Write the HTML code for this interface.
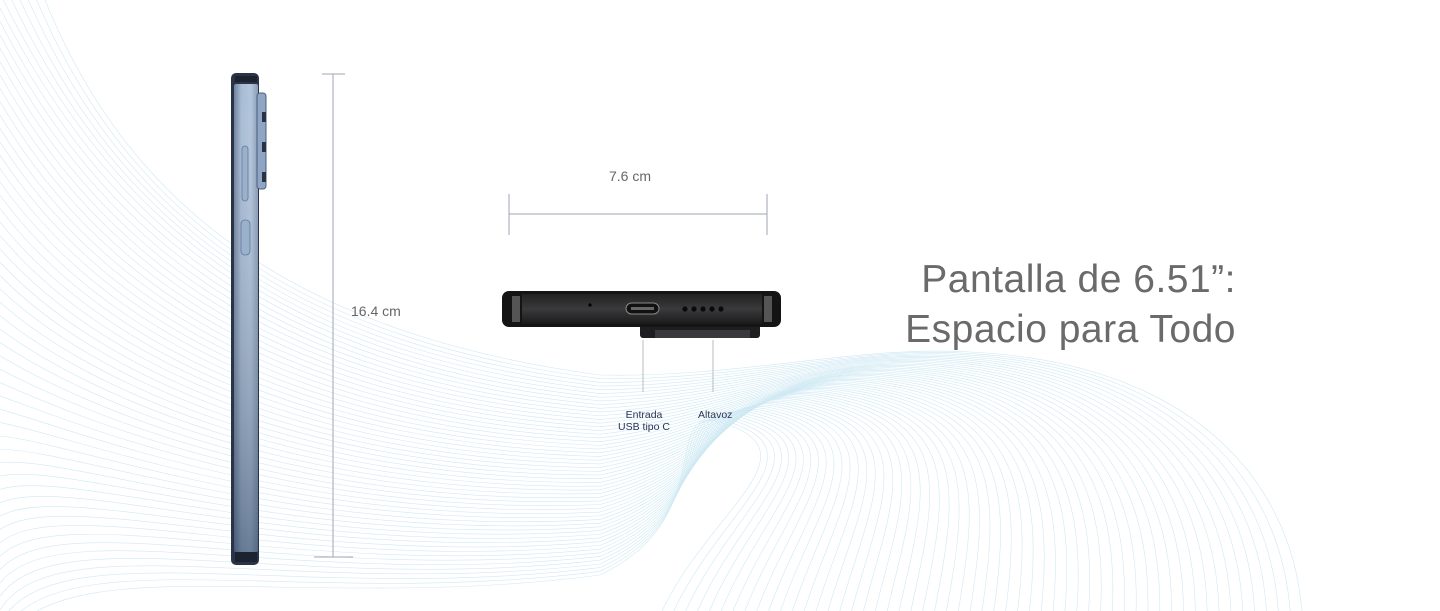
<!DOCTYPE html>
<html><head><meta charset="utf-8"><style>
html,body{margin:0;padding:0;background:#fff;overflow:hidden;width:1440px;height:611px;}
body{position:relative;font-family:"Liberation Sans",sans-serif;}
.t{position:absolute;color:#555;}
svg{overflow:hidden;display:block;}
</style></head><body>
<svg id="w" width="1440" height="611" style="position:absolute;left:0;top:0"></svg>
<svg width="1440" height="611" style="position:absolute;left:0;top:0">
<defs>
<linearGradient id="side" x1="0" x2="1" y1="0" y2="0">
<stop offset="0" stop-color="#5d7390"/><stop offset="0.3" stop-color="#9db4cf"/><stop offset="0.7" stop-color="#a9bfd8"/><stop offset="1" stop-color="#7b91ad"/></linearGradient>
<linearGradient id="sidev" x1="0" x2="0" y1="0" y2="1">
<stop offset="0" stop-color="#fff" stop-opacity="0.1"/><stop offset="1" stop-color="#2e3e58" stop-opacity="0.5"/></linearGradient>
<linearGradient id="bot" x1="0" x2="0" y1="0" y2="1">
<stop offset="0" stop-color="#222"/><stop offset="0.5" stop-color="#3a3a3c"/><stop offset="1" stop-color="#1a1a1a"/></linearGradient>
</defs>
<rect x="231" y="73" width="28" height="492" rx="5" fill="#2b3346"/>
<rect x="234" y="84" width="24" height="468" rx="2" fill="url(#side)"/>
<rect x="234" y="84" width="24" height="468" rx="2" fill="url(#sidev)"/>
<rect x="235" y="76" width="22" height="6" fill="#1c2230"/>
<rect x="235" y="552" width="22" height="10" fill="#1c2230"/>
<rect x="257" y="93" width="9" height="96" rx="3" fill="#8ea6c4" stroke="#4d5f7c" stroke-width="1"/>
<rect x="262" y="112" width="4" height="10" fill="#2a3246"/><rect x="262" y="142" width="4" height="10" fill="#2a3246"/><rect x="262" y="172" width="4" height="10" fill="#2a3246"/>
<rect x="242" y="146" width="6" height="55" rx="3" fill="#9ab1cc" stroke="#64789a" stroke-width="0.8"/>
<rect x="241" y="220" width="9" height="35" rx="4" fill="#9ab1cc" stroke="#64789a" stroke-width="0.8"/>
<line x1="333" y1="74" x2="333" y2="557" stroke="#a0a6b3" stroke-width="1"/>
<line x1="322" y1="74" x2="345" y2="74" stroke="#a0a6b3"/>
<line x1="314" y1="557" x2="353" y2="557" stroke="#a0a6b3"/>
<line x1="509" y1="214" x2="767" y2="214" stroke="#a0a6b3"/>
<line x1="509" y1="194" x2="509" y2="235" stroke="#a0a6b3"/>
<line x1="767" y1="194" x2="767" y2="235" stroke="#a0a6b3"/>
<rect x="640" y="322" width="120" height="16" rx="3" fill="#1e1e20"/>
<rect x="655" y="330" width="95" height="8" fill="#3a3a3c"/>
<rect x="502" y="291" width="279" height="36" rx="7" fill="#141414"/>
<rect x="522" y="294" width="240" height="30" fill="url(#bot)"/>
<rect x="512" y="296" width="8" height="26" fill="#555"/>
<rect x="764" y="296" width="8" height="26" fill="#555"/>
<circle cx="590" cy="305" r="1.6" fill="#000"/>
<rect x="626" y="303" width="33" height="11" rx="5.5" fill="#111" stroke="#888" stroke-width="1"/>
<rect x="631" y="307" width="23" height="3" fill="#666"/>
<g fill="#0a0a0a"><circle cx="685" cy="309" r="2.6"/><circle cx="694" cy="309" r="2.6"/><circle cx="703" cy="309" r="2.6"/><circle cx="712" cy="309" r="2.6"/><circle cx="721" cy="309" r="2.6"/></g>
<line x1="643" y1="340" x2="643" y2="392" stroke="#bbb"/>
<line x1="713" y1="340" x2="713" y2="392" stroke="#bbb"/>
</svg>
<div class="t" style="left:351px;top:303px;font-size:14px;color:#666;">16.4 cm</div>
<div class="t" style="left:609px;top:168px;font-size:14px;color:#666;">7.6 cm</div>
<div class="t" style="left:604px;top:409px;width:80px;text-align:center;font-size:10.5px;line-height:12px;color:#2a3556;">Entrada<br>USB tipo C</div>
<div class="t" style="left:698px;top:409px;font-size:10.5px;color:#2a3556;">Altavoz</div>
<div class="t" style="left:880px;top:255px;width:356px;text-align:right;font-size:39px;line-height:50px;color:#6a6a6a;letter-spacing:0.5px;">Pantalla de 6.51”:<br>Espacio para Todo</div>
<script>
var s=document.getElementById('w'),h='';
var N=55;
for(var i=0;i<N;i++){var t=i/(N-1);
var x0,y0;
if(t<0.1){x0=45*(1-t/0.1);y0=0;}else{x0=0;y0=(t-0.1)/0.9*650;}
var ex=970-250*t, ey=352+70*t;
var d='M'+x0+' '+y0+' C'+(130-80*t)+' '+(210+330*t)+' '+(300)+' '+(335+280*t)+' 600 '+(375+200*t)
+' C'+(740-20*t)+' '+(378+140*t)+' '+(860-200*t)+' '+(345+60*t)+' '+ex+' '+ey
+' C'+(1180-360*t)+' '+(362+90*t)+' '+(1290-580*t)+' '+(470+40*t)+' '+(1302-640*t)+' 611';
h+='<path d="'+d+'" fill="none" stroke="#cfe9f3" stroke-width="0.6"/>';}
s.innerHTML=h;
</script>
</body></html>
